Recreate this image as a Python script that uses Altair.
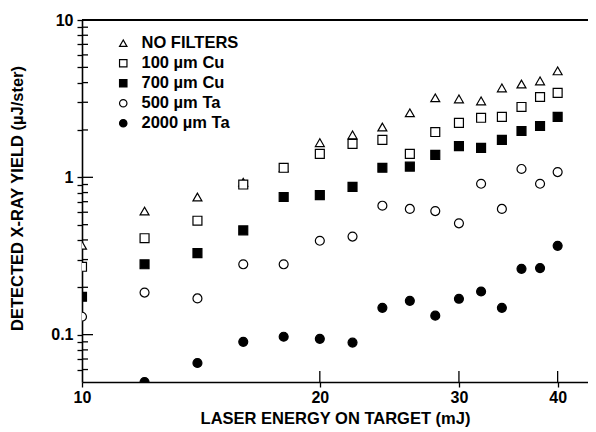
import altair as alt
import pandas as pd

energy = [10, 12, 14, 16, 18, 20, 22, 24, 26, 28, 30, 32, 34, 36, 38, 40]
no_filters = [0.37, 0.61, 0.75, 0.93, 1.15, 1.66, 1.86, 2.09, 2.57, 3.2, 3.15, 3.06, 3.7, 3.92, 4.1, 4.75]
cu100 = [0.27, 0.41, 0.53, 0.90, 1.15, 1.41, 1.63, 1.73, 1.41, 1.94, 2.22, 2.39, 2.42, 2.8, 3.24, 3.44]
cu700 = [0.174, 0.28, 0.33, 0.46, 0.75, 0.77, 0.87, 1.15, 1.17, 1.39, 1.58, 1.54, 1.73, 1.97, 2.12, 2.42]
ta500 = [0.13, 0.185, 0.17, 0.28, 0.28, 0.395, 0.42, 0.66, 0.63, 0.61, 0.51, 0.91, 0.63, 1.13, 0.91, 1.08]
ta2000 = [None, 0.05, 0.066, 0.09, 0.097, 0.094, 0.089, 0.148, 0.164, 0.132, 0.169, 0.188, 0.148, 0.262, 0.265, 0.367]

series_names = ["NO FILTERS", "100 µm Cu", "700 µm Cu", "500 µm Ta", "2000 µm Ta"]
series_values = [no_filters, cu100, cu700, ta500, ta2000]
series_shapes = ["triangle-up", "square", "square", "circle", "circle"]
series_fills = ["white", "white", "black", "white", "black"]

x_labels = [10, 20, 30, 40]
x_major = [20, 30, 40]
y_major = [0.1, 1, 10]
y_minor = [0.06, 0.07, 0.08, 0.09, 0.2, 0.3, 0.4, 0.5, 0.6, 0.7, 0.8, 0.9,
           2, 3, 4, 5, 6, 7, 8, 9]

rows = []
for name, vals in zip(series_names, series_values):
    for e, v in zip(energy, vals):
        if v is not None:
            rows.append({"energy": e, "yield": v, "series": name, "kind": "pt"})
for v in y_major:
    rows.append({"energy": 20, "yield": v, "series": "", "kind": "ymaj"})
for v in y_minor:
    rows.append({"energy": 20, "yield": v, "series": "", "kind": "ymin"})
for v in x_major:
    rows.append({"energy": v, "yield": 1, "series": "", "kind": "xmaj"})
rows.append({"energy": 20, "yield": 1, "series": "", "kind": "top"})
df = pd.DataFrame(rows)

W, H = 506, 362
FONT = "Liberation Sans"

xscale = alt.Scale(type="log", domain=[10, 43.7], nice=False)
yscale = alt.Scale(type="log", domain=[0.05, 10], nice=False)
XT = "LASER ENERGY ON TARGET (mJ)"
YT = "DETECTED X-RAY YIELD (µJ/ster)"

xaxis = alt.Axis(values=x_labels, format="d", title=XT, labelFlush=False,
                 ticks=True, tickSize=5, tickWidth=1.3, tickColor="black",
                 labelPadding=2, titleX=W / 2, titleY=36, titleBaseline="middle",
                 titleAlign="center")
yaxis = alt.Axis(values=y_major + y_minor, format="~g", title=YT, labelFlush=False,
                 labelExpr="datum.value == 0.1 || datum.value == 1 || datum.value == 10 ? datum.label : ''",
                 labelOverlap=False,
                 ticks=True, tickSize=5, tickWidth=1.3, tickColor="black",
                 labelPadding=4, titleX=-65, titleY=178, titleAngle=270,
                 titleAlign="center", titleBaseline="middle")

leg = alt.Legend(
    orient="none", legendX=33, legendY=15, title=None,
    labelFont=FONT, labelFontSize=16.5, labelFontWeight="bold", labelColor="black",
    symbolSize=55, symbolStrokeWidth=1.2,
    rowPadding=3, labelOffset=10, padding=0,
)

base = alt.Chart(df)

points = base.transform_filter(alt.datum.kind == "pt").mark_point(
    size=80, strokeWidth=1.2, opacity=1, filled=False, clip=True
).encode(
    x=alt.X("energy:Q", scale=xscale, axis=xaxis),
    y=alt.Y("yield:Q", scale=yscale, axis=yaxis),
    shape=alt.Shape("series:N", scale=alt.Scale(domain=series_names, range=series_shapes), legend=leg),
    fill=alt.Fill("series:N", scale=alt.Scale(domain=series_names, range=series_fills), legend=leg),
    stroke=alt.Stroke("series:N", scale=alt.Scale(domain=series_names, range=["black"] * 5), legend=leg),
)

ymaj = base.transform_filter(alt.datum.kind == "ymaj").mark_rule(color="black", strokeWidth=1.3).encode(
    y=alt.Y("yield:Q", scale=yscale, axis=yaxis), x=alt.value(0), x2=alt.value(11))
ymin = base.transform_filter(alt.datum.kind == "ymin").mark_rule(color="black", strokeWidth=1.3).encode(
    y=alt.Y("yield:Q", scale=yscale, axis=yaxis), x=alt.value(0), x2=alt.value(6))
xmaj = base.transform_filter(alt.datum.kind == "xmaj").mark_rule(color="black", strokeWidth=1.3).encode(
    x=alt.X("energy:Q", scale=xscale, axis=xaxis), y=alt.value(H), y2=alt.value(H - 11))
top = base.transform_filter(alt.datum.kind == "top").mark_rule(color="black", strokeWidth=1.8).encode(
    x=alt.value(0), x2=alt.value(W), y=alt.value(0))

chart = alt.layer(points, ymaj, ymin, xmaj, top).properties(
    width=W, height=H,
    autosize=alt.AutoSizeParams(type="none"),
    padding={"left": 74, "top": 12, "right": 0, "bottom": 50},
).configure_view(stroke="transparent").configure_axis(
    grid=False,
    labelFont=FONT, labelFontSize=16, labelFontWeight="bold", labelColor="black",
    titleFont=FONT, titleFontSize=16.5, titleFontWeight="bold", titleColor="black",
    domainColor="black", domainWidth=1.6,
)

chart.save("out.html", embed_options={"renderer": "svg", "actions": False})
